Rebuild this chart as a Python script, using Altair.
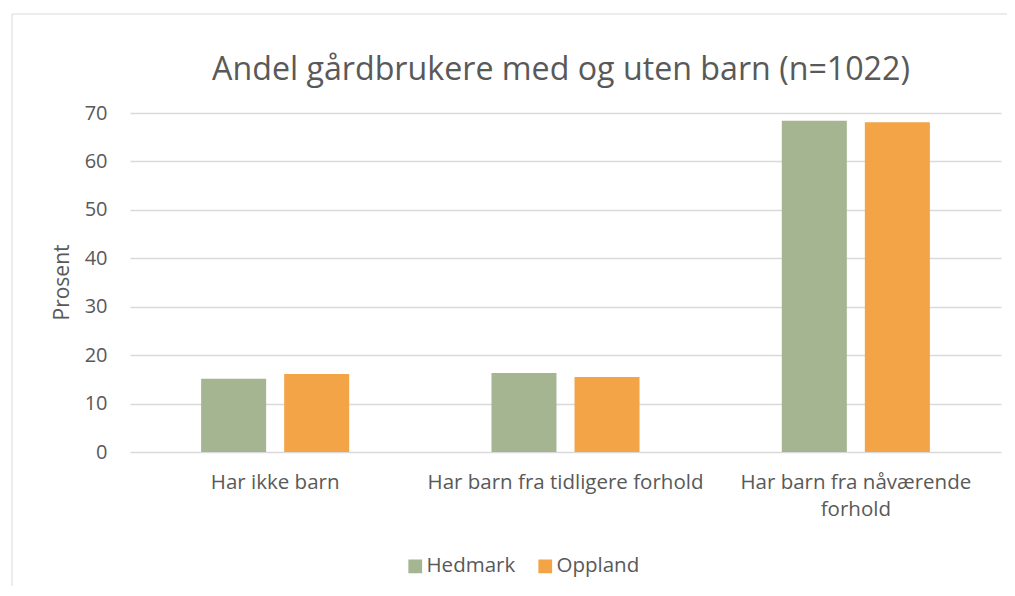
import altair as alt
import pandas as pd

categories = ["Har ikke barn", "Har barn fra tidligere forhold", "Har barn fra nåværende forhold"]
series = ["Hedmark", "Oppland"]
hedmark = [15.1, 16.3, 68.4]
oppland = [16.1, 15.5, 68.1]
colors = ["#A5B592", "#F3A447"]
title_text = "Andel gårdbrukere med og uten barn (n=1022)"

rows = []
for c, h, o in zip(categories, hedmark, oppland):
    rows.append({"kategori": c, "fylke": "Hedmark", "prosent": h})
    rows.append({"kategori": c, "fylke": "Oppland", "prosent": o})
df = pd.DataFrame(rows)

FONT = "Open Sans"
TXT = "#595959"

bars = alt.Chart(df).mark_bar().encode(
    x=alt.X("kategori:N", sort=categories,
            scale=alt.Scale(paddingInner=0.49, paddingOuter=0.245),
            axis=alt.Axis(title=None, labelAngle=0, labelPadding=20, ticks=False,
                          domain=False, grid=False, labelFontSize=20.5, labelColor=TXT, labelFont=FONT,
                          labelLineHeight=27, labelLimit=400,
                          labelExpr="datum.value == 'Har barn fra nåværende forhold' ? ['Har barn fra nåværende', 'forhold'] : datum.label")),
    xOffset=alt.XOffset("fylke:N", sort=series, scale=alt.Scale(paddingInner=0.217, paddingOuter=0)),
    y=alt.Y("prosent:Q", scale=alt.Scale(domain=[0, 70], nice=False),
            axis=alt.Axis(title="Prosent", values=[0, 10, 20, 30, 40, 50, 60, 70],
                          ticks=False, domain=False, labelPadding=23, labelFontSize=20,
                          labelColor=TXT, labelFont=FONT, gridColor="#d9d9d9", gridWidth=1.3,
                          titleFont=FONT, titleFontSize=21, titleColor=TXT, titleFontWeight="normal",
                          titleX=-62, titleY=169, titleBaseline="alphabetic", titleAlign="center")),
    color=alt.Color("fylke:N", sort=series, scale=alt.Scale(domain=series, range=colors),
                    legend=alt.Legend(title=None, orient="none", direction="horizontal",
                                      legendX=275, legendY=443, symbolType="square", symbolSize=190,
                                      symbolStrokeWidth=0, labelFontSize=20.5, labelColor=TXT,
                                      labelFont=FONT, columnPadding=19, labelOffset=1, padding=0)),
)

one = pd.DataFrame({"a": [0]})
border_top = alt.Chart(one).mark_rule(color="#d9d9d9", strokeWidth=1).encode(
    x=alt.value(-118), x2=alt.value(880), y=alt.value(-99)
)
border_left = alt.Chart(one).mark_rule(color="#d9d9d9", strokeWidth=1).encode(
    x=alt.value(-118), y=alt.value(-99), y2=alt.value(500)
)

title = alt.Chart(pd.DataFrame({"t": [title_text]})).mark_text(
    font=FONT, fontSize=32.2, color=TXT, align="center", baseline="alphabetic"
).encode(text="t:N", x=alt.value(431), y=alt.value(-33.5))

chart = alt.layer(border_top, border_left, bars, title).properties(
    width=871, height=339,
    background="white",
    autosize=alt.AutoSizeParams(type="none"),
    padding={"left": 122, "top": 105, "right": 6, "bottom": 134},
).configure_view(stroke="transparent", strokeWidth=0)

chart.save("out.html", embed_options={"renderer": "svg", "actions": False})
